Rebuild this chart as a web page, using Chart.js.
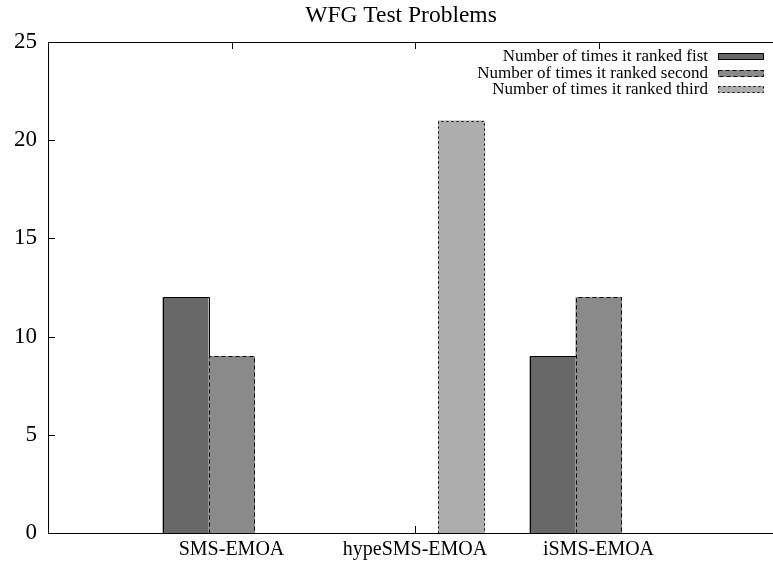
<!DOCTYPE html>
<html><head><meta charset="utf-8">
<script src="https://cdn.jsdelivr.net/npm/chart.js@4.4.1/dist/chart.umd.min.js"></script>
<style>html,body{margin:0;padding:0;overflow:hidden;background:#fff;width:773px;height:562px}
canvas{display:block}</style></head>
<body><canvas id="c" width="802" height="562"></canvas>
<script>
const categories = ['SMS-EMOA', 'hypeSMS-EMOA', 'iSMS-EMOA'];
const rankedFirst = [12, 0, 9];
const rankedSecond = [9, 0, 12];
const rankedThird = [0, 21, 0];
const seriesLabels = ['Number of times it ranked fist', 'Number of times it ranked second', 'Number of times it ranked third'];
const yTicks = [0, 5, 10, 15, 20, 25];
const chartTitle = 'WFG Test Problems';

const SERIF = '"Liberation Serif", "Times New Roman", Times, serif';
const fills = ['#686868', '#8a8a8a', '#adadad'];
const dashes = [[], [4, 3], [2, 3]];

function pts(vals) { return vals.map((v, i) => ({ x: i, y: v })); }

const barBorders = {
  id: 'barBorders',
  afterDatasetsDraw(chart) {
    const ctx = chart.ctx;
    chart.data.datasets.forEach((ds, di) => {
      const meta = chart.getDatasetMeta(di);
      meta.data.forEach((bar, i) => {
        if (!ds.data[i].y) return;
        const p = bar.getProps(['x', 'y', 'base', 'width'], true);
        const l = Math.round(p.x - p.width / 2) + 0.5, r = Math.round(p.x + p.width / 2) + 0.5;
        const t = Math.round(p.y) + 0.5, b = Math.round(p.base) + 0.5;
        ctx.save();
        ctx.lineWidth = 1;
        ctx.beginPath(); ctx.moveTo(l, b); ctx.lineTo(l, t); ctx.lineTo(r, t); ctx.lineTo(r, b);
        if (dashes[di].length) { ctx.strokeStyle = fills[di]; ctx.setLineDash([]); ctx.stroke(); }
        ctx.strokeStyle = '#000'; ctx.setLineDash(dashes[di]); ctx.stroke();
        ctx.restore();
      });
    });
  }
};

const frameTicks = {
  id: 'frameTicks',
  beforeDatasetsDraw(chart) {
    const ctx = chart.ctx, a = chart.chartArea, xs = chart.scales.x, ys = chart.scales.y;
    ctx.save(); ctx.strokeStyle = '#000'; ctx.lineWidth = 1; ctx.beginPath();
    yTicks.forEach(v => {
      const y = Math.round(ys.getPixelForValue(v)) + 0.5;
      ctx.moveTo(a.left, y); ctx.lineTo(a.left + 7, y);
    });
    categories.forEach((c, i) => {
      const x = Math.round(xs.getPixelForValue(i)) + 0.5;
      ctx.moveTo(x, a.top); ctx.lineTo(x, a.top + 7);
      ctx.moveTo(x, a.bottom); ctx.lineTo(x, a.bottom - 7);
    });
    ctx.stroke(); ctx.restore();
  },
  afterDraw(chart) {
    const ctx = chart.ctx, a = chart.chartArea;
    ctx.save(); ctx.strokeStyle = '#000'; ctx.lineWidth = 1;
    ctx.beginPath();
    ctx.moveTo(a.right, a.top + 0.5); ctx.lineTo(a.left + 0.5, a.top + 0.5);
    ctx.lineTo(a.left + 0.5, a.bottom + 0.5); ctx.lineTo(a.right, a.bottom + 0.5);
    ctx.stroke();
    // legend (top right inside plot)
    ctx.font = '17px ' + SERIF; ctx.textAlign = 'right'; ctx.textBaseline = 'middle';
    chart.data.datasets.forEach((ds, i) => {
      const cy = Math.round(a.top + 14 + i * 16.6);
      ctx.fillStyle = '#000';
      ctx.fillText(ds.label, a.right - 74, cy + 1);
      const bx = a.right - 64, bw = 45, by = cy - 3, bh = 6;
      ctx.fillStyle = fills[i];
      ctx.fillRect(bx + 0.5, by + 0.5, bw, bh);
      ctx.beginPath(); ctx.rect(bx + 0.5, by + 0.5, bw, bh);
      if (dashes[i].length) { ctx.strokeStyle = fills[i]; ctx.setLineDash([]); ctx.stroke(); }
      ctx.strokeStyle = '#000'; ctx.setLineDash(dashes[i]); ctx.stroke();
      ctx.setLineDash([]);
    });
    ctx.restore();
  }
};

const seriesValues = [rankedFirst, rankedSecond, rankedThird];
new Chart(document.getElementById('c'), {
  type: 'bar',
  data: {
    datasets: seriesValues.map((vals, i) => ({
      label: seriesLabels[i],
      data: pts(vals),
      backgroundColor: fills[i],
      borderWidth: 0,
      categoryPercentage: 0.752,
      barPercentage: 1
    }))
  },
  options: {
    responsive: false,
    animation: false,
    events: [],
    devicePixelRatio: 1,
    layout: { padding: 0 },
    plugins: {
      legend: { display: false },
      tooltip: { enabled: false },
      title: {
        display: true, text: chartTitle, color: '#000',
        font: { family: SERIF, size: 23.5, weight: 'normal', lineHeight: 1.2 },
        padding: { top: 2, bottom: 42 - 2 - 23.5 * 1.2 }
      }
    },
    scales: {
      x: {
        type: 'linear', min: -1, max: 3, offset: false,
        afterBuildTicks: s => { s.ticks = categories.map((c, i) => ({ value: i })); },
        ticks: { callback: v => categories[v] ?? '', font: { family: SERIF, size: 20 }, color: '#000', padding: 5, maxRotation: 0, autoSkip: false },
        grid: { display: false, drawTicks: false },
        border: { display: false },
        afterFit: s => { s.height = 29; }
      },
      y: {
        min: 0, max: 25,
        afterBuildTicks: s => { s.ticks = yTicks.map(v => ({ value: v })); },
        ticks: { font: { family: SERIF, size: 23 }, color: '#000', padding: 11 },
        grid: { display: false, drawTicks: false },
        border: { display: false },
        afterFit: s => { s.width = 48; }
      },
      y2: {
        position: 'right', display: true,
        ticks: { display: false },
        grid: { display: false, drawTicks: false },
        border: { display: false },
        afterFit: s => { s.width = 20; }
      }
    }
  },
  plugins: [barBorders, frameTicks]
});
</script>
</body></html>
